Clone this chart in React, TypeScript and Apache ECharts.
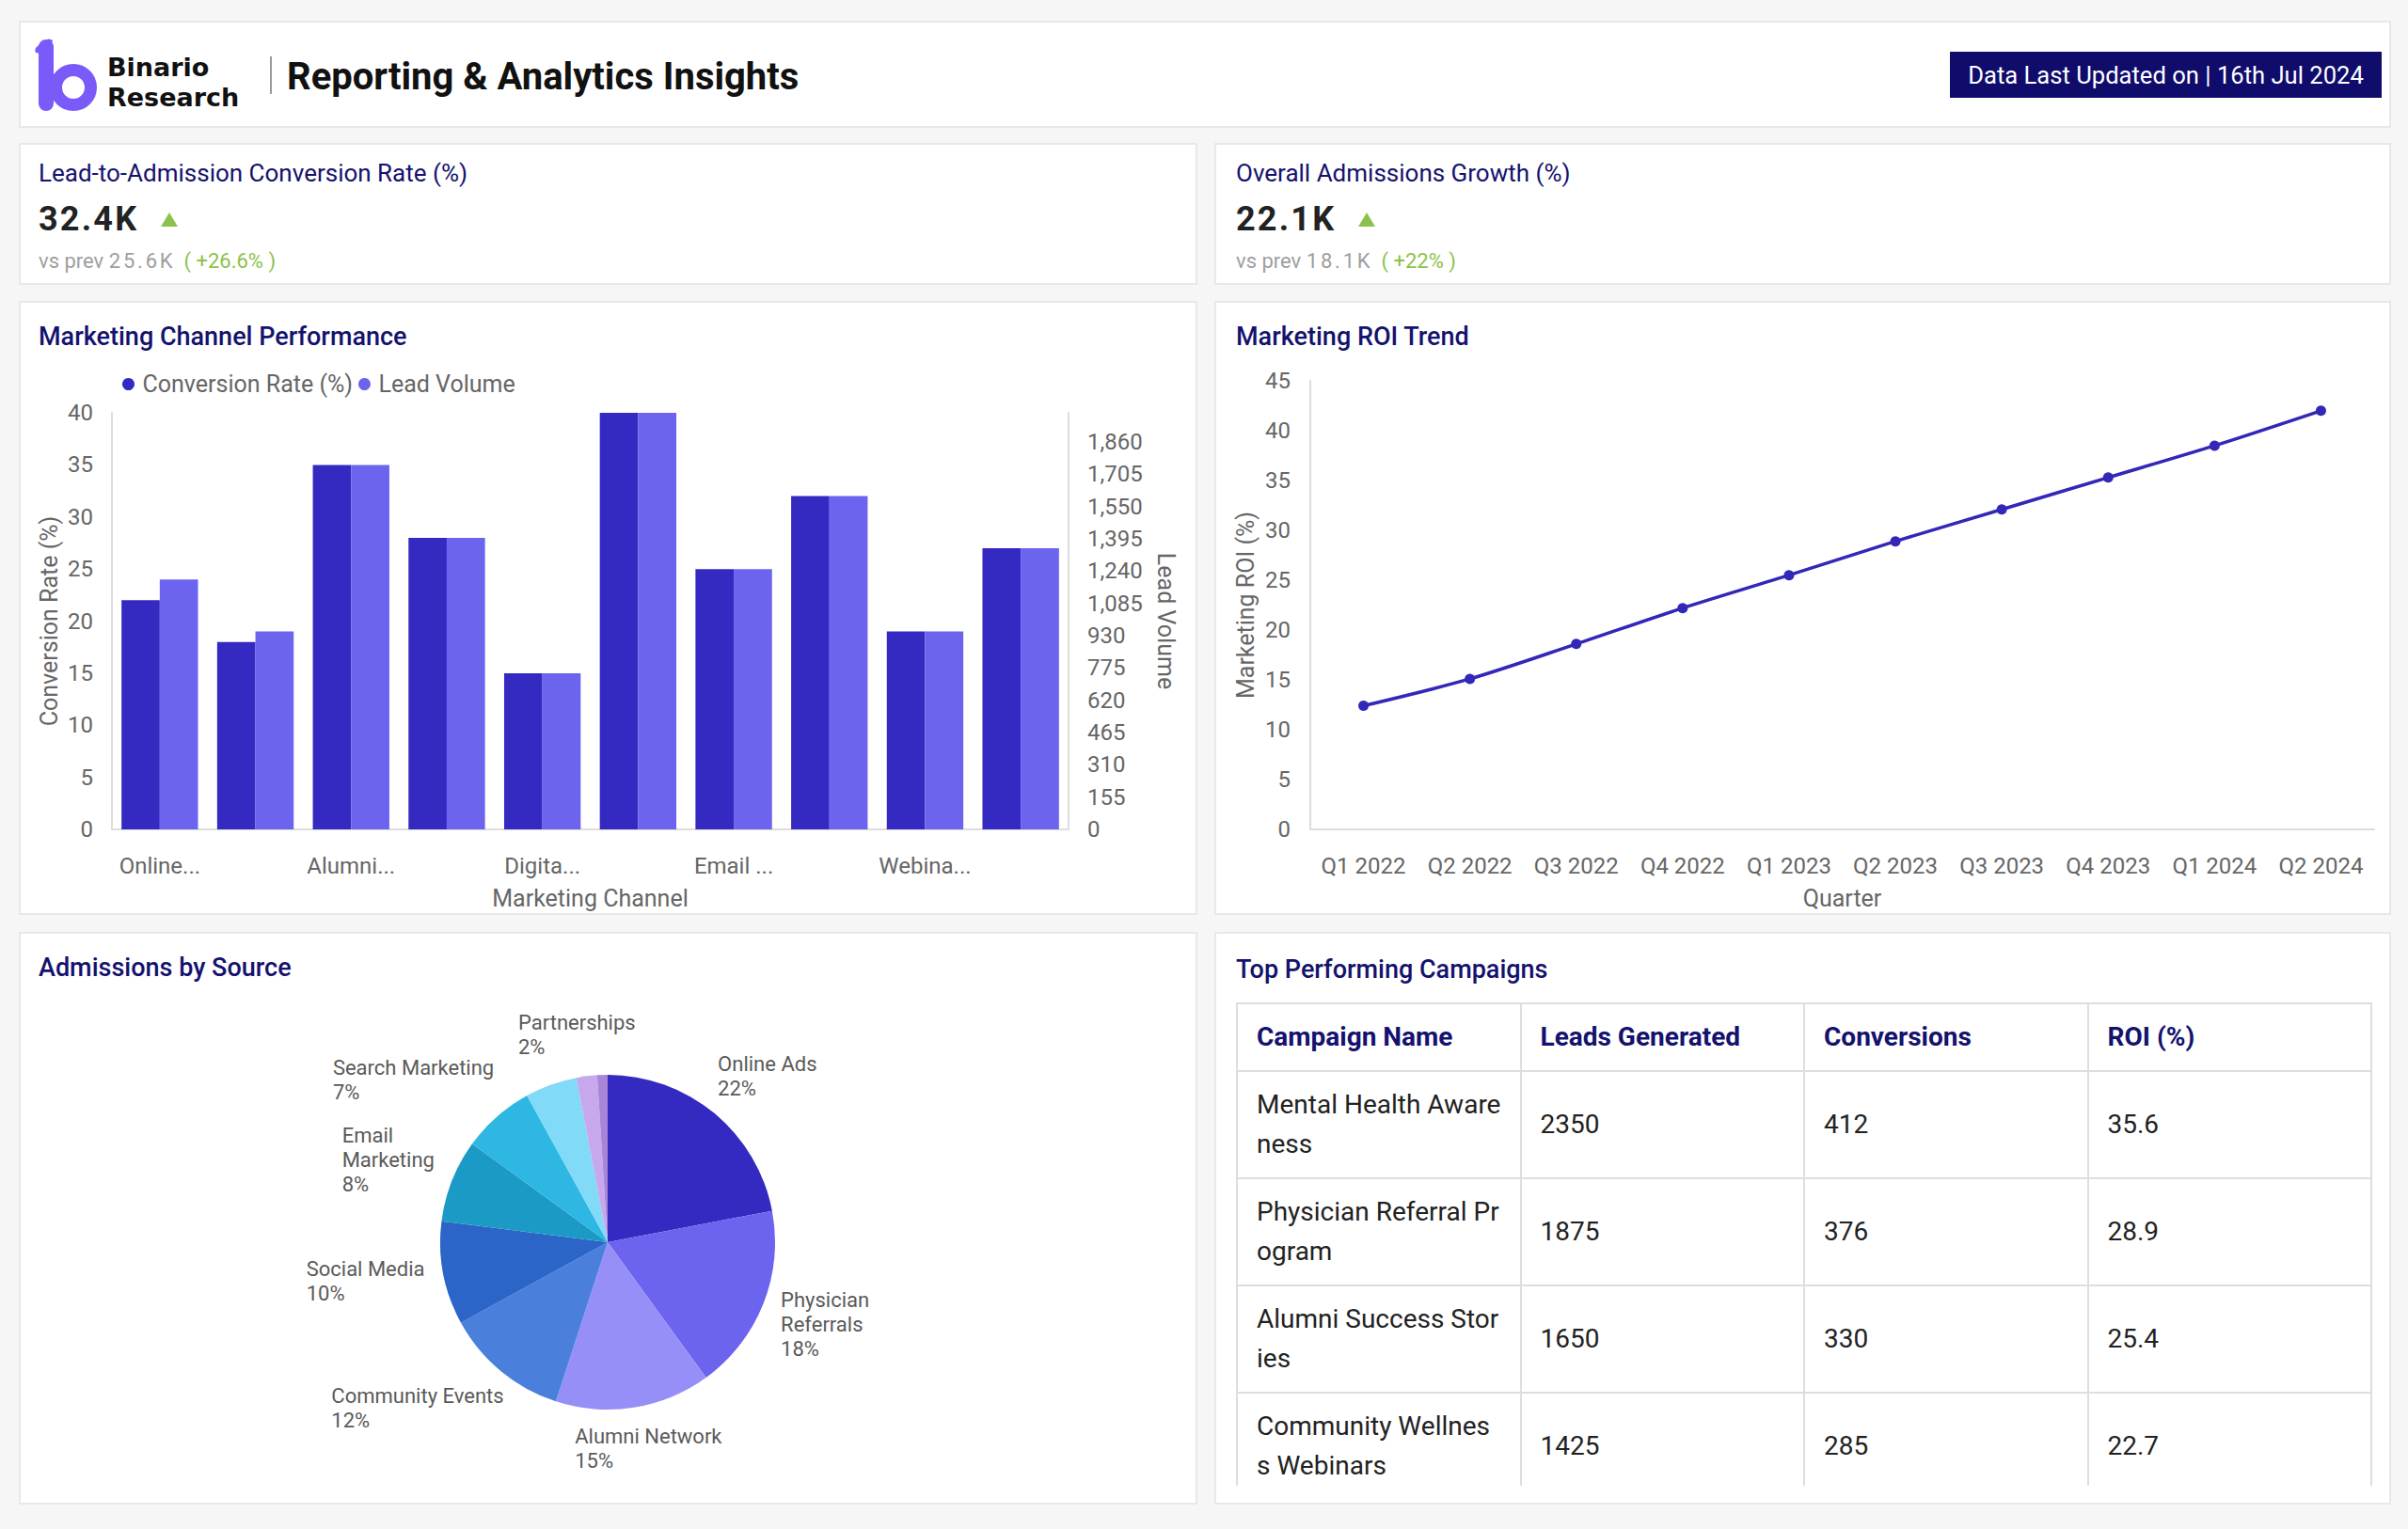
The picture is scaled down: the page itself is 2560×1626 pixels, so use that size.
import React, { useEffect, useRef } from 'react';
import * as echarts from 'echarts';

const FONT = 'Roboto, "Noto Sans", sans-serif';
const NAVY = '#14126e';
const AXIS_TEXT = '#666666';
const AXIS_LINE = '#dddddd';
const GREEN = '#8bc34a';

// ---------- header / KPI data ----------
const brandLines = ['Binario', 'Research'];
const reportTitle = 'Reporting & Analytics Insights';
const updatedText = 'Data Last Updated on | 16th Jul 2024';
const kpiTitles = ['Lead-to-Admission Conversion Rate (%)', 'Overall Admissions Growth (%)'];
const kpiValues = ['32.4K', '22.1K'];
const kpiPrevValues = ['25.6K', '18.1K'];
const kpiChanges = ['+26.6%', '+22%'];

// ---------- bar chart data ----------
const channels = [
  'Online Ads',
  'Social Media',
  'Alumni Network',
  'Physician Referrals',
  'Digital Campaigns',
  'Community Events',
  'Email Marketing',
  'Search Marketing',
  'Webinars',
  'Partnerships',
];
const conversionRate = [22, 18, 35, 28, 15, 40, 25, 32, 19, 27];
const leadVolume = [1200, 950, 1750, 1400, 750, 2000, 1250, 1600, 950, 1350];

// ---------- line chart data ----------
const quarters = ['Q1 2022', 'Q2 2022', 'Q3 2022', 'Q4 2022', 'Q1 2023', 'Q2 2023', 'Q3 2023', 'Q4 2023', 'Q1 2024', 'Q2 2024'];
const marketingRoi = [12.4, 15.1, 18.6, 22.2, 25.5, 28.9, 32.1, 35.3, 38.5, 42.0];

// ---------- pie data ----------
const sources = [
  'Online Ads',
  'Physician Referrals',
  'Alumni Network',
  'Community Events',
  'Social Media',
  'Email Marketing',
  'Search Marketing',
  'Print Media',
  'Partnerships',
  'Other',
];
const sourceShares = [22, 18, 15, 12, 10, 8, 7, 5, 2, 1];
const sourceColors = ['#3429c1', '#6c63ee', '#978ff8', '#4a80db', '#2b65c7', '#1b9ac6', '#2eb7e3', '#80daf8', '#c8a8ec', '#a786d8'];
const hiddenLabelSources = ['Print Media', 'Other'];
const wrappedLabelSources = ['Physician Referrals', 'Email Marketing'];

// ---------- table data ----------
const tableHeaders = ['Campaign Name', 'Leads Generated', 'Conversions', 'ROI (%)'];
const campaignNames = ['Mental Health Awareness', 'Physician Referral Program', 'Alumni Success Stories', 'Community Wellness Webinars'];
const leadsGenerated = [2350, 1875, 1650, 1425];
const campaignConversions = [412, 376, 330, 285];
const campaignRoi = ['35.6', '28.9', '25.4', '22.7'];

// ---------- options ----------
const axisNameStyle = { fontSize: 25, color: AXIS_TEXT, fontFamily: FONT };
const titleStyle = { fontSize: 27, fontWeight: 500, color: NAVY, fontFamily: FONT };

const barOption: any = {
  animation: false,
  textStyle: { fontFamily: FONT },
  title: { text: 'Marketing Channel Performance', left: 16, top: 19, textStyle: titleStyle },
  legend: {
    data: ['Conversion Rate (%)', 'Lead Volume'],
    left: 105,
    top: 71,
    icon: 'circle',
    itemWidth: 20,
    itemHeight: 13,
    itemGap: 6,
    textStyle: { fontSize: 25, color: AXIS_TEXT, fontFamily: FONT },
  },
  grid: { left: 99, right: 137, top: 119, bottom: 88 },
  xAxis: {
    type: 'category',
    data: channels,
    axisLine: { lineStyle: { color: AXIS_LINE, width: 2 } },
    axisTick: { show: false },
    axisLabel: {
      interval: 1,
      fontSize: 24,
      color: AXIS_TEXT,
      margin: 27,
      formatter: (v: string) => (v.length > 6 ? v.slice(0, 6) + '...' : v),
    },
    name: 'Marketing Channel',
    nameLocation: 'middle',
    nameGap: 61,
    nameMoveOverlap: false,
    nameTextStyle: axisNameStyle,
  },
  yAxis: [
    {
      type: 'value',
      min: 0,
      max: 40,
      interval: 5,
      name: 'Conversion Rate (%)',
      nameLocation: 'middle',
      nameGap: 54,
      nameMoveOverlap: false,
      nameTextStyle: axisNameStyle,
      axisLine: { show: true, lineStyle: { color: AXIS_LINE, width: 2 } },
      axisTick: { show: false },
      splitLine: { show: false },
      axisLabel: { fontSize: 24, color: AXIS_TEXT, margin: 20 },
    },
    {
      type: 'value',
      position: 'right',
      min: 0,
      max: 2000,
      interval: 155,
      name: 'Lead Volume',
      nameLocation: 'middle',
      nameRotate: -90,
      nameGap: 91,
      nameMoveOverlap: false,
      nameTextStyle: axisNameStyle,
      axisLine: { show: true, lineStyle: { color: AXIS_LINE, width: 2 } },
      axisTick: { show: false },
      splitLine: { show: false },
      axisLabel: { fontSize: 24, color: AXIS_TEXT, margin: 20, showMaxLabel: false },
    },
  ],
  series: [
    {
      name: 'Conversion Rate (%)',
      type: 'bar',
      yAxisIndex: 0,
      data: conversionRate,
      barGap: '0%',
      barCategoryGap: '20%',
      itemStyle: { color: '#3429c1' },
    },
    {
      name: 'Lead Volume',
      type: 'bar',
      yAxisIndex: 1,
      data: leadVolume,
      barGap: '0%',
      barCategoryGap: '20%',
      itemStyle: { color: '#6c63ee' },
    },
  ],
};

const lineOption: any = {
  animation: false,
  textStyle: { fontFamily: FONT },
  title: { text: 'Marketing ROI Trend', left: 18, top: 19, textStyle: titleStyle },
  grid: { left: 102, right: 18, top: 85, bottom: 88 },
  xAxis: {
    type: 'category',
    data: quarters,
    axisLine: { lineStyle: { color: AXIS_LINE, width: 2 } },
    axisTick: { show: false },
    axisLabel: { interval: 0, fontSize: 24, color: AXIS_TEXT, margin: 27 },
    name: 'Quarter',
    nameLocation: 'middle',
    nameGap: 61,
    nameMoveOverlap: false,
    nameTextStyle: axisNameStyle,
  },
  yAxis: {
    type: 'value',
    min: 0,
    max: 45,
    interval: 5,
    name: 'Marketing ROI (%)',
    nameLocation: 'middle',
    nameGap: 56,
    nameMoveOverlap: false,
    nameTextStyle: axisNameStyle,
    axisLine: { show: true, lineStyle: { color: AXIS_LINE, width: 2 } },
    axisTick: { show: false },
    splitLine: { show: false },
    axisLabel: { fontSize: 24, color: AXIS_TEXT, margin: 21 },
  },
  series: [
    {
      name: 'Marketing ROI (%)',
      type: 'line',
      data: marketingRoi,
      smooth: 0.3,
      symbol: 'circle',
      symbolSize: 11,
      lineStyle: { width: 3.5, color: '#3227b7' },
      itemStyle: { color: '#3227b7' },
    },
  ],
};

const PIE_CENTER = [626, 330];
const PIE_RADIUS = 178;
const PIE_LABEL_OFFSET = 20;
const shareTotal = sourceShares.reduce((a, b) => a + b, 0);

const pieOption: any = {
  animation: false,
  textStyle: { fontFamily: FONT },
  title: { text: 'Admissions by Source', left: 16, top: 19, textStyle: titleStyle },
  series: [
    {
      type: 'pie',
      center: PIE_CENTER,
      radius: PIE_RADIUS,
      startAngle: 90,
      clockwise: true,
      avoidLabelOverlap: false,
      itemStyle: { borderWidth: 0 },
      emphasis: { disabled: true },
      labelLine: { show: false },
      label: {
        show: true,
        position: 'outside',
        formatter: (p: any) => {
          const name = wrappedLabelSources.includes(p.name) ? p.name.split(' ').join('\n') : p.name;
          const lines = name.split('\n').map((s: string) => '{t|' + s + '}');
          lines.push('{t|' + Math.round(p.percent) + '%}');
          return lines.join('\n');
        },
        rich: {
          t: { fontSize: 22, lineHeight: 26, color: '#5a5a5a', align: 'left', fontFamily: FONT },
        },
      },
      labelLayout: (params: any) => {
        const i = params.dataIndex;
        let before = 0;
        for (let k = 0; k < i; k++) before += sourceShares[k];
        const mid = ((before + sourceShares[i] / 2) / shareTotal) * Math.PI * 2;
        const vx = Math.sin(mid);
        const vy = -Math.cos(mid);
        const m = Math.max(Math.abs(vx), Math.abs(vy));
        const w = params.labelRect.width;
        const h = params.labelRect.height;
        return {
          x: PIE_CENTER[0] + PIE_RADIUS * vx + ((w / 2) * vx) / m + PIE_LABEL_OFFSET * vx,
          y: PIE_CENTER[1] + PIE_RADIUS * vy + ((h / 2) * vy) / m + PIE_LABEL_OFFSET * vy,
          align: 'center',
          verticalAlign: 'middle',
        };
      },
      data: sources.map((name, i) => ({
        name,
        value: sourceShares[i],
        itemStyle: { color: sourceColors[i] },
        label: hiddenLabelSources.includes(name) ? { show: false } : undefined,
      })),
    },
  ],
};

// ---------- components ----------
function EChart({ option, width, height }: { option: any; width: number; height: number }) {
  const ref = useRef<HTMLDivElement>(null);
  useEffect(() => {
    if (!ref.current) return;
    const chart = echarts.init(ref.current, undefined, { renderer: 'svg' });
    chart.setOption(option);
    return () => chart.dispose();
  }, [option]);
  return <div ref={ref} style={{ position: 'absolute', left: -2, top: -2, width, height }} />;
}

function Card({ x, y, w, h, children }: { x: number; y: number; w: number; h: number; children?: any }) {
  return (
    <div
      style={{
        position: 'absolute',
        left: x,
        top: y,
        width: w,
        height: h,
        boxSizing: 'border-box',
        border: '2px solid #e8e8e8',
        background: '#ffffff',
      }}
    >
      {children}
    </div>
  );
}

function Kpi({ idx, x, w, pad }: { idx: number; x: number; w: number; pad: number }) {
  return (
    <Card x={x} y={152} w={w} h={151}>
      <div style={{ position: 'absolute', left: pad, top: 15, fontSize: 26, lineHeight: '30px', color: NAVY, whiteSpace: 'nowrap' }}>
        {kpiTitles[idx]}
      </div>
      <div style={{ position: 'absolute', left: pad, top: 59, height: 40, display: 'flex', alignItems: 'center' }}>
        <span style={{ fontSize: 36, fontWeight: 700, color: '#222', letterSpacing: 2.2, lineHeight: '40px' }}>{kpiValues[idx]}</span>
        <span
          style={{
            display: 'inline-block',
            marginLeft: 24,
            width: 0,
            height: 0,
            borderLeft: '9px solid transparent',
            borderRight: '9px solid transparent',
            borderBottom: '15px solid ' + GREEN,
          }}
        />
      </div>
      <div style={{ position: 'absolute', left: pad, top: 111, fontSize: 22, lineHeight: '26px', color: '#9e9e9e', whiteSpace: 'nowrap' }}>
        <span>vs prev </span>
        <span style={{ letterSpacing: 2.8 }}>{kpiPrevValues[idx]}</span>
        <span style={{ color: GREEN, marginLeft: 9 }}>( {kpiChanges[idx]} )</span>
      </div>
    </Card>
  );
}

function Logo() {
  return (
    <svg style={{ position: 'absolute', left: 14, top: 16 }} width={72} height={80} viewBox="0 0 72 80">
      <path d="M2 16 Q0 12 4 9 L12 3 Q16 0 20 3 L14 18 Z" fill="#7a5af8" />
      <rect x={5} y={2} width={16} height={76} rx={8} fill="#7a5af8" />
      <circle cx={42} cy={53} r={18.5} fill="none" stroke="#7a5af8" strokeWidth={13} />
    </svg>
  );
}

export default function App() {
  const cell: any = {
    border: '2px solid #dedede',
    padding: '14px 20px',
    textAlign: 'left',
    verticalAlign: 'middle',
    wordBreak: 'break-all',
    lineHeight: '42px',
  };
  const brandStyle: any = {
    position: 'absolute',
    left: 92,
    fontFamily: '"DejaVu Sans", Roboto, sans-serif',
    fontWeight: 700,
    fontSize: 27,
    lineHeight: '32px',
    height: 32,
    color: '#111',
    whiteSpace: 'nowrap',
  };
  return (
    <div
      style={{
        position: 'absolute',
        left: 0,
        top: 0,
        width: 2560,
        height: 1626,
        background: '#f6f6f6',
        fontFamily: FONT,
        overflow: 'hidden',
      }}
    >
      {/* Header */}
      <Card x={20} y={22} w={2522} h={114}>
        <Logo />
        <div style={{ ...brandStyle, top: 32 }}>{brandLines[0]}</div>
        <div style={{ ...brandStyle, top: 64 }}>{brandLines[1]}</div>
        <div style={{ position: 'absolute', left: 265, top: 36, width: 2, height: 40, background: '#9a9a9a' }} />
        <div style={{ position: 'absolute', left: 283, top: 34, fontSize: 40, fontWeight: 700, lineHeight: '48px', color: '#111', whiteSpace: 'nowrap' }}>
          {reportTitle}
        </div>
        <div
          style={{
            position: 'absolute',
            left: 2051,
            top: 31,
            width: 459,
            height: 49,
            background: '#100c6c',
            color: '#fff',
            fontSize: 25.6,
            display: 'flex',
            alignItems: 'center',
            justifyContent: 'center',
            whiteSpace: 'nowrap',
          }}
        >
          {updatedText}
        </div>
      </Card>

      {/* KPI cards */}
      <Kpi idx={0} x={20} w={1253} pad={19} />
      <Kpi idx={1} x={1291} w={1251} pad={21} />

      {/* Charts */}
      <Card x={20} y={320} w={1253} h={653}>
        <EChart option={barOption} width={1253} height={653} />
      </Card>
      <Card x={1291} y={320} w={1251} h={653}>
        <EChart option={lineOption} width={1251} height={653} />
      </Card>
      <Card x={20} y={991} w={1253} h={609}>
        <EChart option={pieOption} width={1253} height={609} />
      </Card>

      {/* Table */}
      <Card x={1291} y={991} w={1251} h={609}>
        <div style={{ position: 'absolute', left: 21, top: 23, fontSize: 27, fontWeight: 500, lineHeight: '30px', color: NAVY }}>
          Top Performing Campaigns
        </div>
        <div style={{ position: 'absolute', left: 21, top: 73, width: 1208, height: 514, overflow: 'hidden' }}>
          <table style={{ width: 1208, borderCollapse: 'collapse', tableLayout: 'fixed', fontSize: 28, color: '#222', fontFamily: FONT }}>
            <colgroup>
              <col style={{ width: '25%' }} />
              <col style={{ width: '25%' }} />
              <col style={{ width: '25%' }} />
              <col style={{ width: '25%' }} />
            </colgroup>
            <thead>
              <tr>
                {tableHeaders.map((h) => (
                  <th key={h} style={{ ...cell, color: NAVY, fontWeight: 700 }}>
                    {h}
                  </th>
                ))}
              </tr>
            </thead>
            <tbody>
              {campaignNames.map((name, i) => (
                <tr key={name}>
                  <td style={cell}>{name}</td>
                  <td style={cell}>{leadsGenerated[i]}</td>
                  <td style={cell}>{campaignConversions[i]}</td>
                  <td style={cell}>{campaignRoi[i]}</td>
                </tr>
              ))}
            </tbody>
          </table>
        </div>
      </Card>
    </div>
  );
}
